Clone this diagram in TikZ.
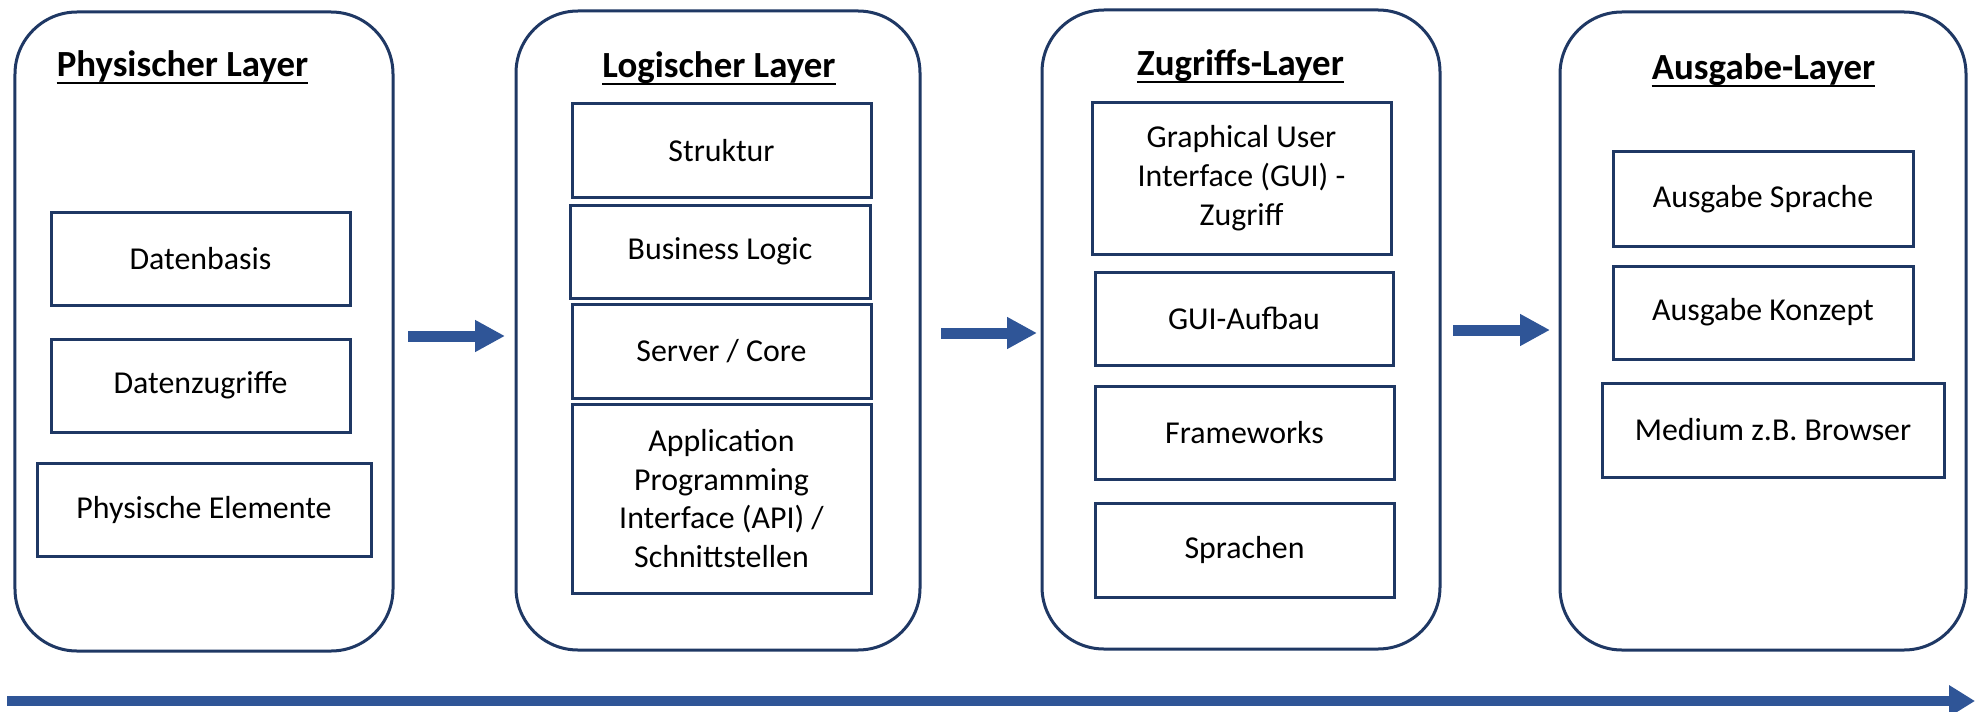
\documentclass[tikz,border=0pt]{standalone}
\usepackage{fontspec}
\setmainfont{Carlito}
\usetikzlibrary{arrows.meta}
\definecolor{navy}{HTML}{1F3864}
\definecolor{arrowblue}{HTML}{2F5597}
\tikzset{
  layerbox/.style={draw=navy, line width=3bp, rounded corners=62bp, inner sep=0pt, fill=white},
  itembox/.style={draw=navy, line width=3bp, inner sep=0pt, align=center, font=\fontsize{32}{39}\selectfont},
  layertitle/.style={inner sep=0pt, anchor=base, font=\fontsize{37}{44}\selectfont\bfseries},
  uline/.style={line width=2.8bp, black},
  flow/.style={draw=arrowblue, line width=11bp, -{Triangle[length=30bp, width=30bp]}},
  bigflow/.style={draw=arrowblue, line width=10bp, -{Triangle[length=26bp, width=30bp]}}
}
\newcommand{\ibox}[6]{% name, x1, x2, y1, y2, text
  \node[itembox, minimum width={(#3-#2)*1bp}, minimum height={(#5-#4)*1bp}] (#1) at ({(#2+#3)/2},{(#4+#5)/2}) {#6};}
\newcommand{\ltitle}[4]{% name, x, y, text
  \node[layertitle] (#1) at (#2,#3) {#4};
  \draw[uline] ([yshift=-6bp]#1.base west) -- ([yshift=-6bp]#1.base east);}
\begin{document}
\begin{tikzpicture}[x=1bp, y=-1bp]
\useasboundingbox (0,0) rectangle (1975,712);

% layer boxes
\node[layerbox, minimum width=378bp, minimum height=639bp] (L1) at (204,331.5) {};
\node[layerbox, minimum width=404bp, minimum height=639bp] (L2) at (718,330.5) {};
\node[layerbox, minimum width=398bp, minimum height=639bp] (L3) at (1241,329.5) {};
\node[layerbox, minimum width=406bp, minimum height=638bp] (L4) at (1763,331) {};

% titles
\ltitle{T1}{182.5}{77}{Physischer Layer}
\ltitle{T2}{719}{78}{Logischer Layer}
\ltitle{T3}{1240.5}{76}{Zugriffs-Layer}
\ltitle{T4}{1763.5}{80}{Ausgabe-Layer}

% physical layer
\ibox{p1}{51}{350}{212}{305}{Datenbasis}
\ibox{p2}{51}{350}{339}{432}{Datenzugriffe}
\ibox{p3}{37}{371}{463}{556}{Physische Elemente}

% logical layer
\ibox{g1}{572}{871}{104}{197}{Struktur}
\ibox{g2}{570}{870}{205}{298}{Business Logic}
\ibox{g3}{572}{871}{304}{398}{Server / Core}
\ibox{g4}{572}{871}{404}{593}{Application\\Programming\\Interface (API) /\\Schnittstellen}

% access layer
\ibox{z1}{1092}{1391}{103}{254}{Graphical User\\Interface (GUI) -\\Zugriff}
\ibox{z2}{1095}{1393}{272}{365}{GUI-Aufbau}
\ibox{z3}{1095}{1394}{386}{479}{Frameworks}
\ibox{z4}{1095}{1394}{503}{597}{Sprachen}

% output layer
\ibox{o1}{1613}{1913}{152}{246}{Ausgabe Sprache}
\ibox{o2}{1613}{1913}{266}{359}{Ausgabe Konzept}
\ibox{o3}{1602}{1944}{383}{477}{Medium z.B. Browser}

% arrows between layers
\coordinate (a1s) at (408,336);  \coordinate (a1e) at (505,336);
\coordinate (a2s) at (941,333);  \coordinate (a2e) at (1037,333);
\coordinate (a3s) at (1453,330); \coordinate (a3e) at (1550,330);
\draw[flow] (a1s) -- (a1e);
\draw[flow] (a2s) -- (a2e);
\draw[flow] (a3s) -- (a3e);

% long time arrow
\coordinate (bs) at (7,701); \coordinate (be) at (1975,701);
\draw[bigflow] (bs) -- (be);
\end{tikzpicture}
\end{document}
